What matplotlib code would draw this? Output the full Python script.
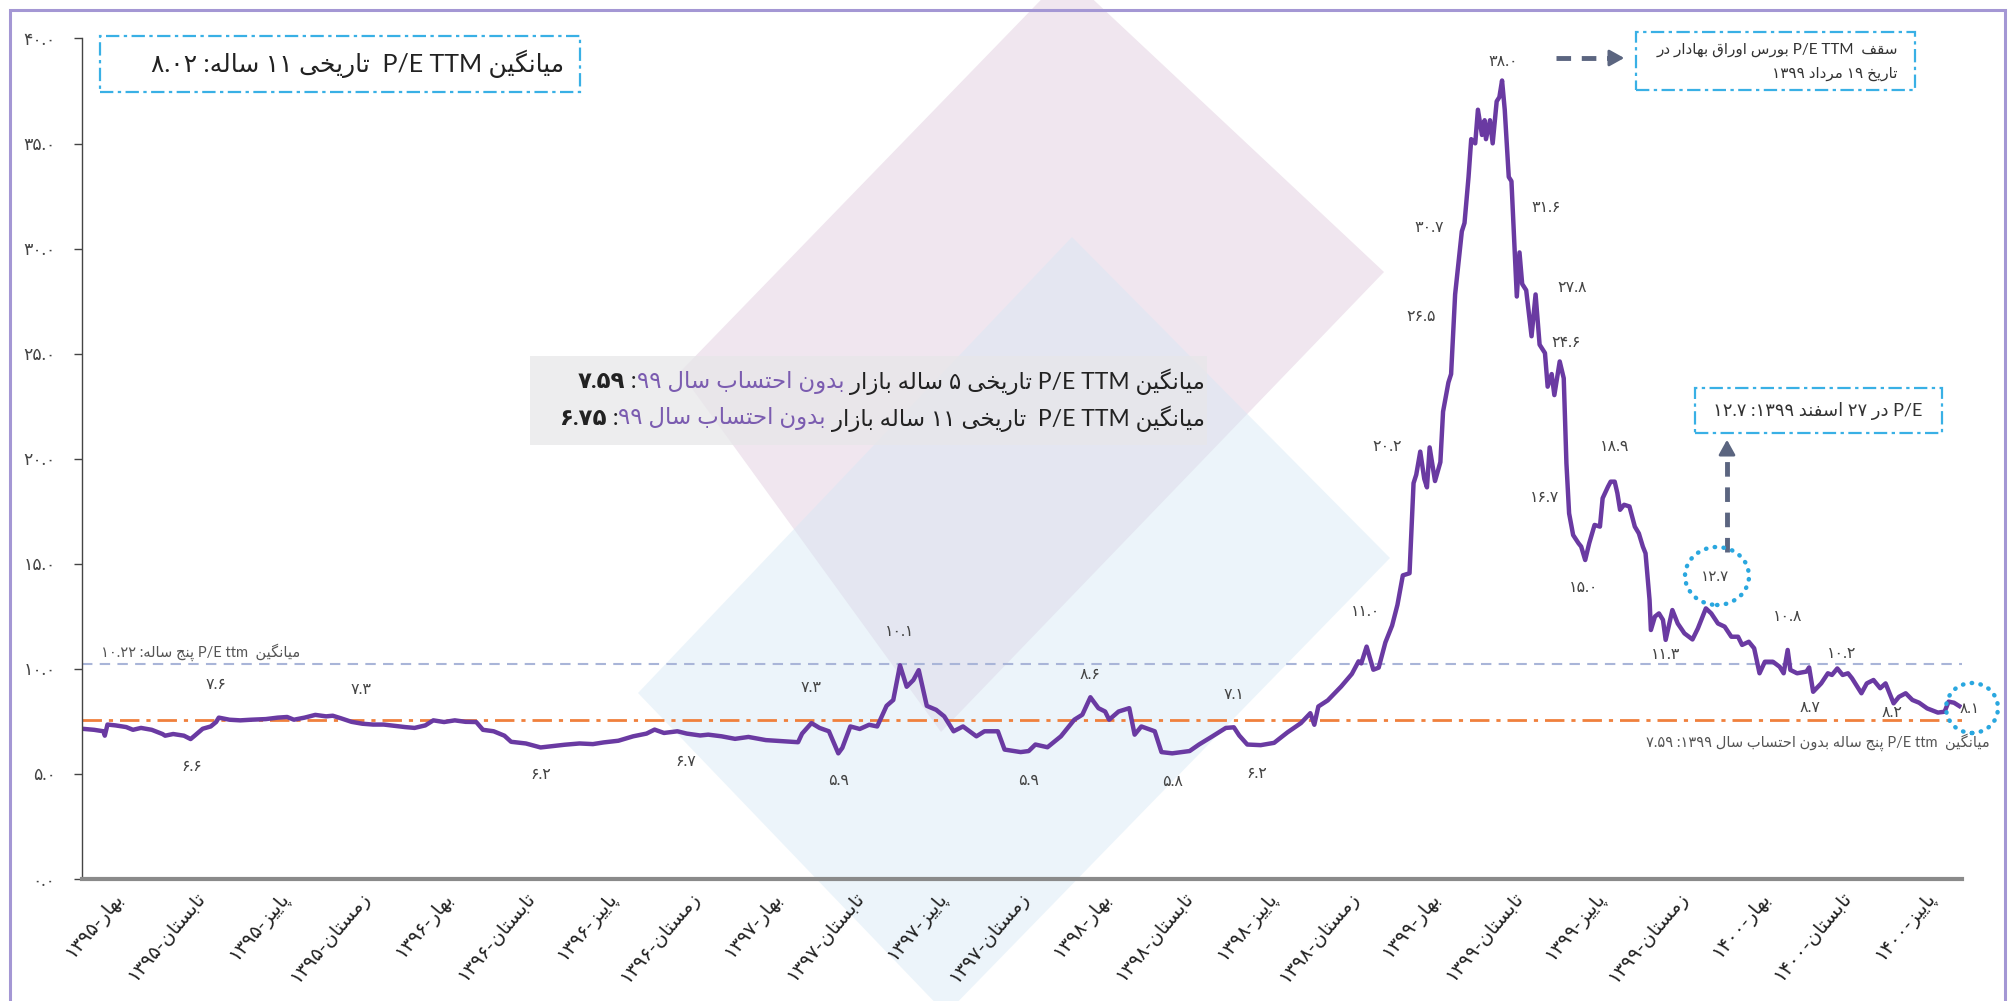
import matplotlib
matplotlib.use("Agg")
import matplotlib.pyplot as plt
from matplotlib.patches import Polygon, Rectangle, Ellipse
from matplotlib.lines import Line2D

plt.rcParams['font.family'] = ['Lato', 'DejaVu Sans']

W, H = 2013, 1001

# trading-day index and P/E TTM of the market
days = [0, 9, 16, 17, 19, 25, 33, 38, 44, 52,
        60, 62, 68, 76, 81, 84, 90, 96, 100, 102,
        110, 118, 126, 137, 146, 153, 158, 166, 174, 182,
        187, 193, 201, 209, 217, 225, 233, 241, 248, 256,
        262, 270, 278, 286, 294, 299, 307, 315, 320, 331,
        342, 350, 360, 371, 381, 389, 400,
        411, 421, 427, 434, 444, 451, 461, 467, 477, 487,
        497, 510, 520, 534, 537, 544, 550, 557, 564, 567,
        573, 580, 587, 593, 600, 605, 610, 615, 620, 624,
        630, 637, 643, 650, 657, 667, 673, 683, 688, 700,
        706, 711, 720, 730, 740, 746, 752, 758, 763, 766,
        773, 781, 785, 790, 800, 805, 813, 826, 833, 843,
        853, 859, 863, 869, 879, 889, 899, 909, 916, 919,
        922,
        929, 939, 947, 952, 954, 958, 963, 967, 972, 977,
        981, 985, 990, 993, 995, 998, 1001, 1003, 1005, 1009,
        1013, 1015, 1019, 1021, 1024, 1029, 1031, 1034, 1036, 1039,
        1041, 1044, 1046, 1047, 1050, 1052, 1055, 1057, 1059, 1061,
        1064, 1066, 1068, 1070, 1072, 1074, 1077, 1081, 1084, 1087,
        1091, 1093, 1096, 1098, 1102, 1105,
        1107, 1109, 1112, 1116, 1118, 1121, 1124, 1128, 1132, 1134,
        1138, 1140, 1143, 1145, 1147, 1150, 1154, 1158, 1161, 1164,
        1166, 1169, 1170, 1173, 1176, 1179, 1181, 1186, 1190, 1195,
        1201, 1205, 1211, 1215, 1220, 1225, 1230, 1235, 1238, 1243,
        1247, 1251, 1255, 1261, 1266, 1269, 1272, 1274, 1279, 1286,
        1288, 1291, 1297, 1302, 1305, 1309, 1313, 1317, 1320, 1327,
        1331, 1336, 1341, 1345, 1351, 1355, 1360, 1365, 1370, 1376,
        1384, 1389, 1392, 1396, 1400]

pe_ttm = [7.15, 7.10, 7.03, 6.82, 7.35, 7.31, 7.23, 7.10, 7.19, 7.10,
          6.90, 6.82, 6.90, 6.82, 6.66, 6.82, 7.15, 7.26, 7.47, 7.68,
          7.58, 7.55, 7.58, 7.61, 7.68, 7.71, 7.58, 7.68, 7.81, 7.74,
          7.77, 7.65, 7.48, 7.39, 7.35, 7.35, 7.29, 7.23, 7.19, 7.31,
          7.55, 7.47, 7.55, 7.48, 7.47, 7.10, 7.03, 6.82, 6.53, 6.45,
          6.26, 6.32, 6.39, 6.45, 6.42, 6.50, 6.58,
          6.79, 6.92, 7.11, 6.95, 7.03, 6.92, 6.83, 6.87, 6.79, 6.67,
          6.76, 6.61, 6.57, 6.51, 6.92, 7.42, 7.19, 7.03, 5.98, 6.24,
          7.26, 7.14, 7.34, 7.26, 8.24, 8.52, 10.17, 9.15, 9.47, 9.94,
          8.24, 8.05, 7.74, 7.03, 7.26, 6.79, 7.03, 7.03, 6.16, 6.04,
          6.09, 6.40, 6.27, 6.79, 7.58, 7.82, 8.65, 8.13, 7.97, 7.58,
          7.97, 8.13, 6.87, 7.26, 7.03, 6.04, 5.98, 6.09, 6.40, 6.79,
          7.19, 7.22, 6.83, 6.40, 6.37, 6.48, 6.98, 7.42, 7.89, 7.34,
          8.21,
          8.50, 9.16, 9.76, 10.36, 10.26, 11.06, 9.96, 10.06, 11.26, 12.06,
          13.05, 14.45, 14.55, 18.84, 19.24, 20.34, 19.04, 18.64, 20.54, 18.94,
          19.84, 22.24, 23.63, 24.03, 27.82, 30.82, 31.22, 33.41, 35.21, 35.01,
          36.61, 35.41, 36.11, 35.21, 36.11, 35.01, 37.01, 37.21, 38.00, 36.61,
          33.41, 33.21, 30.42, 27.72, 29.82, 28.32, 28.02, 25.83, 27.82, 25.43,
          25.03, 23.43, 24.03, 23.03, 24.63, 23.83,
          19.78, 17.40, 16.37, 15.98, 15.82, 15.18, 15.98, 16.85, 16.77, 18.12,
          18.67, 18.91, 18.91, 18.36, 17.57, 17.81, 17.73, 16.77, 16.45, 15.82,
          15.50, 13.28, 11.85, 12.49, 12.64, 12.33, 11.38, 12.80, 12.16, 11.69,
          11.40, 11.92, 12.88, 12.64, 12.16, 12.01, 11.53, 11.53, 11.14, 11.29,
          10.98, 9.79, 10.34, 10.34, 10.10, 9.79, 10.90, 9.95, 9.79, 9.87,
          10.07, 8.91, 9.31, 9.79, 9.71, 10.02, 9.71, 9.79, 9.55, 8.84,
          9.31, 9.47, 9.08, 9.31, 8.36, 8.67, 8.84, 8.52, 8.39, 8.12,
          7.92, 7.96, 8.44, 8.39, 8.23]

avg_5y = 10.22
avg_5y_ex99 = 7.59

season_labels = ['بهار-۱۳۹۵', 'تابستان-۱۳۹۵', 'پاییز-۱۳۹۵', 'زمستان-۱۳۹۵',
                 'بهار-۱۳۹۶', 'تابستان-۱۳۹۶', 'پاییز-۱۳۹۶', 'زمستان-۱۳۹۶',
                 'بهار-۱۳۹۷', 'تابستان-۱۳۹۷', 'پاییز-۱۳۹۷', 'زمستان-۱۳۹۷',
                 'بهار-۱۳۹۸', 'تابستان-۱۳۹۸', 'پاییز-۱۳۹۸', 'زمستان-۱۳۹۸',
                 'بهار-۱۳۹۹', 'تابستان-۱۳۹۹', 'پاییز-۱۳۹۹', 'زمستان-۱۳۹۹',
                 'بهار-۱۴۰۰', 'تابستان-۱۴۰۰', 'پاییز-۱۴۰۰']
season_days = [23, 84, 146, 207, 269, 330, 391, 453, 514, 576, 637, 698,
               760, 821, 883, 944, 1005, 1067, 1128, 1190, 1251, 1312, 1374]

y_ticks = [0, 5, 10, 15, 20, 25, 30, 35, 40]
y_tick_labels = ['۰.۰', '۵.۰', '۱۰.۰', '۱۵.۰', '۲۰.۰', '۲۵.۰', '۳۰.۰', '۳۵.۰', '۴۰.۰']

# values written next to the line (highs above, lows below)
point_notes = ['۷.۶', '۶.۶', '۷.۳', '۶.۲', '۶.۷', '۷.۳', '۵.۹', '۱۰.۱', '۵.۹', '۸.۶',
               '۵.۸', '۷.۱', '۶.۲', '۱۱.۰', '۲۰.۲', '۲۶.۵', '۳۰.۷', '۳۸.۰', '۳۱.۶',
               '۲۷.۸', '۲۴.۶', '۱۶.۷', '۱۸.۹', '۱۵.۰', '۱۱.۳', '۱۰.۸', '۱۰.۲', '۸.۷', '۸.۲']
note_xy = [(100, 9.24), (82, 5.32), (208, 9.0), (342, 4.97), (450, 5.57), (544, 9.07),
           (564, 4.67), (610, 11.75), (706, 4.67), (752, 9.70), (813, 4.62), (859, 8.76),
           (876, 4.99), (957, 12.7), (973, 20.54), (999, 26.73), (1005, 31.0), (1060, 38.9),
           (1092, 31.92), (1111, 28.12), (1107, 25.53), (1091, 18.14), (1143, 20.58),
           (1120, 13.84), (1181, 10.67), (1272, 12.48), (1312, 10.71), (1289, 8.13),
           (1350, 7.89)]

# ---- persian shaping / bidi (matplotlib draws glyphs left to right, unshaped) ----
AR_FORMS = {
    '\u0627': (0xFE8D, 0xFE8E, None, None), '\u0622': (0xFE81, 0xFE82, None, None),
    '\u0628': (0xFE8F, 0xFE90, 0xFE91, 0xFE92), '\u067E': (0xFB56, 0xFB57, 0xFB58, 0xFB59),
    '\u062A': (0xFE95, 0xFE96, 0xFE97, 0xFE98), '\u062B': (0xFE99, 0xFE9A, 0xFE9B, 0xFE9C),
    '\u062C': (0xFE9D, 0xFE9E, 0xFE9F, 0xFEA0), '\u0686': (0xFB7A, 0xFB7B, 0xFB7C, 0xFB7D),
    '\u062D': (0xFEA1, 0xFEA2, 0xFEA3, 0xFEA4), '\u062E': (0xFEA5, 0xFEA6, 0xFEA7, 0xFEA8),
    '\u062F': (0xFEA9, 0xFEAA, None, None), '\u0630': (0xFEAB, 0xFEAC, None, None),
    '\u0631': (0xFEAD, 0xFEAE, None, None), '\u0632': (0xFEAF, 0xFEB0, None, None),
    '\u0698': (0xFB8A, 0xFB8B, None, None), '\u0633': (0xFEB1, 0xFEB2, 0xFEB3, 0xFEB4),
    '\u0634': (0xFEB5, 0xFEB6, 0xFEB7, 0xFEB8), '\u0635': (0xFEB9, 0xFEBA, 0xFEBB, 0xFEBC),
    '\u0636': (0xFEBD, 0xFEBE, 0xFEBF, 0xFEC0), '\u0637': (0xFEC1, 0xFEC2, 0xFEC3, 0xFEC4),
    '\u0638': (0xFEC5, 0xFEC6, 0xFEC7, 0xFEC8), '\u0639': (0xFEC9, 0xFECA, 0xFECB, 0xFECC),
    '\u063A': (0xFECD, 0xFECE, 0xFECF, 0xFED0), '\u0641': (0xFED1, 0xFED2, 0xFED3, 0xFED4),
    '\u0642': (0xFED5, 0xFED6, 0xFED7, 0xFED8), '\u06A9': (0xFB8E, 0xFB8F, 0xFB90, 0xFB91),
    '\u06AF': (0xFB92, 0xFB93, 0xFB94, 0xFB95), '\u0644': (0xFEDD, 0xFEDE, 0xFEDF, 0xFEE0),
    '\u0645': (0xFEE1, 0xFEE2, 0xFEE3, 0xFEE4), '\u0646': (0xFEE5, 0xFEE6, 0xFEE7, 0xFEE8),
    '\u0648': (0xFEED, 0xFEEE, None, None), '\u0647': (0xFEE9, 0xFEEA, 0xFEEB, 0xFEEC),
    '\u06CC': (0xFBFC, 0xFBFD, 0xFBFE, 0xFBFF),
}


def shape(s):
    out = []
    for i, ch in enumerate(s):
        f = AR_FORMS.get(ch)
        if f is None:
            out.append(ch)
            continue
        prev = s[i - 1] if i > 0 else ''
        nxt = s[i + 1] if i + 1 < len(s) else ''
        pj = prev in AR_FORMS and AR_FORMS[prev][2] is not None
        nj = f[2] is not None and nxt in AR_FORMS
        if pj and nj:
            c = f[3]
        elif pj:
            c = f[1]
        elif nj:
            c = f[2]
        else:
            c = f[0]
        out.append(chr(c))
    return ''.join(out)


def kind(ch):
    if ch in AR_FORMS or '\u0600' <= ch <= '\u06EF':
        return 'R'
    if ch.isdigit():
        return 'EN'
    if ch.isalpha():
        return 'L'
    return 'N'


def fa(s):
    s = s.replace('\u064A', '\u06CC').replace('\u0643', '\u06A9')
    n = len(s)
    kinds = [kind(c) for c in s]
    for i in range(1, n - 1):
        if s[i] in '.,/' and kinds[i - 1] == 'EN' and kinds[i + 1] == 'EN':
            kinds[i] = 'EN'
    last = 'R'
    for i, k in enumerate(kinds):
        if k in ('R', 'L'):
            last = k
        elif k == 'EN' and last == 'L':
            kinds[i] = 'L'
    strong = ['R' if k == 'EN' else k for k in kinds]
    i = 0
    while i < n:
        if strong[i] != 'N':
            i += 1
            continue
        j = i
        while j < n and strong[j] == 'N':
            j += 1
        before = strong[i - 1] if i > 0 else 'R'
        after = strong[j] if j < n else 'R'
        d = 'L' if (before == 'L' and after == 'L') else 'R'
        for t in range(i, j):
            kinds[t] = d
        i = j
    levels = [1 if k == 'R' else 2 for k in kinds]
    chars = list(shape(s))
    i = 0
    while i < n:
        if levels[i] == 2:
            j = i
            while j < n and levels[j] == 2:
                j += 1
            chars[i:j] = chars[i:j][::-1]
            i = j
        else:
            i += 1
    return ''.join(chars[::-1])


def fp(x, y):
    # reference pixel (from top-left) -> figure fraction
    return x / W, 1 - y / H


fig = plt.figure(figsize=(W / 100, H / 100), dpi=100)
fig.patch.set_facecolor('white')

# background decoration
fig.add_artist(Polygon([fp(1066, -26), fp(1384, 272), fp(941, 732), fp(680, 372)],
                       closed=True, transform=fig.transFigure, fc='#f0e6ef', ec='none', zorder=0))
fig.add_artist(Polygon([fp(638, 693), fp(1072, 237), fp(1390, 558), fp(946, 1014)],
                       closed=True, transform=fig.transFigure, fc='#d6e8f5', ec='none',
                       alpha=0.45, zorder=0))
fig.add_artist(Rectangle(fp(10, 1010), 1995 / W, 1000 / H, transform=fig.transFigure,
                         fill=False, ec='#a497d4', lw=2.2, zorder=1))

x0, x1 = fp(82, 0)[0], fp(1962, 0)[0]
yb, yt = fp(0, 879)[1], fp(0, 38.5)[1]
ax = fig.add_axes([x0, yb, x1 - x0, yt - yb])
ax.set_facecolor('none')
ax.set_zorder(2)

ax.axhline(avg_5y, color='#a9b5d8', lw=1.5, ls=(0, (5, 3.5)))
ax.axhline(avg_5y_ex99, color='#f0803c', lw=2, ls=(0, (7, 2.5, 1.5, 2.5)))
ax.plot(days, pe_ttm, color='#6a3aa2', lw=3.2, solid_joinstyle='round')

ax.set_xlim(0, 1402)
ax.set_ylim(0, 40)
for s in ['top', 'right']:
    ax.spines[s].set_visible(False)
ax.spines['left'].set_color('#444444')
ax.spines['left'].set_linewidth(1)
ax.spines['bottom'].set_color('#8a8a8a')
ax.spines['bottom'].set_linewidth(3)

ax.set_yticks(y_ticks)
ax.set_yticklabels(y_tick_labels)
ax.tick_params(axis='y', length=6, width=1, color='#444444', pad=13,
               labelsize=12.5, labelcolor='#444444')
ax.set_xticks(season_days)
ax.set_xticklabels([fa(s) for s in season_labels], rotation=50, ha='right',
                   rotation_mode='anchor')
ax.tick_params(axis='x', length=0, pad=7, labelsize=14, labelcolor='#222222')

for txt, (dx, dy) in zip(point_notes, note_xy):
    ax.text(dx, dy, txt, fontsize=11.5, color='#444444', ha='center', va='center')

# small labels of the two average lines
ax.text(*fp(300, 652), fa('میانگین  P/E ttm پنج ساله: ۱۰.۲۲'), transform=fig.transFigure,
        fontsize=10.5, color='#555555', ha='right', va='center')
ax.text(*fp(1990, 742), fa('میانگین  P/E ttm پنج ساله بدون احتساب سال ۱۳۹۹: ۷.۵۹'),
        transform=fig.transFigure, fontsize=10.5, color='#555555', ha='right', va='center')

box_kw = dict(transform=fig.transFigure, fc='white', ec='#39b0e5', lw=1.6,
              ls=(0, (6, 2, 1.5, 2)), zorder=3)

# top-left box
fig.add_artist(Rectangle(fp(100, 92), 480 / W, 56 / H, **box_kw))
fig.text(*fp(358, 64), fa('میانگین P/E TTM  تاریخی ۱۱ ساله: ۸.۰۲'), fontsize=18,
         color='#222222', ha='center', va='center', zorder=4)

# top-right box + arrow
fig.add_artist(Rectangle(fp(1636, 90), 279 / W, 58 / H, **box_kw))
fig.text(*fp(1898, 50), fa('سقف  P/E TTM بورس اوراق بهادار در'), fontsize=11,
         color='#333333', ha='right', va='center', zorder=4)
fig.text(*fp(1898, 74), fa('تاریخ ۱۹ مرداد ۱۳۹۹'), fontsize=11,
         color='#333333', ha='right', va='center', zorder=4)

arrow_c = '#5b6580'
fig.add_artist(Line2D([fp(1556, 58)[0], fp(1612, 58)[0]], [fp(1556, 58)[1]] * 2,
                      transform=fig.transFigure, color=arrow_c, lw=3.5, ls=(0, (3, 2.2))))
fig.add_artist(Line2D([fp(1727, 552)[0]] * 2, [fp(0, 552)[1], fp(0, 452)[1]],
                      transform=fig.transFigure, color=arrow_c, lw=3.5, ls=(0, (3, 2.2))))
ax.annotate('', xy=fp(1627, 58), xytext=fp(1610, 58), xycoords='figure fraction',
            textcoords='figure fraction',
            arrowprops=dict(arrowstyle='-|>,head_length=0.9,head_width=0.5', color=arrow_c, lw=2))
ax.annotate('', xy=fp(1727, 437), xytext=fp(1727, 454), xycoords='figure fraction',
            textcoords='figure fraction',
            arrowprops=dict(arrowstyle='-|>,head_length=0.9,head_width=0.5', color=arrow_c, lw=2))

# right box
fig.add_artist(Rectangle(fp(1695, 433), 247 / W, 45 / H, **box_kw))
fig.text(*fp(1818, 411), fa('P/E در ۲۷ اسفند ۱۳۹۹: ۱۲.۷'), fontsize=13,
         color='#333333', ha='center', va='center', zorder=4)

# dotted circles
for (cx, cy), (w, h), txt in [((1717, 576), (64, 58), '۱۲.۷'), ((1972, 708), (52, 50), '۸.۱')]:
    fig.add_artist(Ellipse(fp(cx, cy), w / W, h / H, transform=fig.transFigure, fill=False,
                           ec='#2aa7df', lw=3.2, ls=(0, (0.1, 1.9)), capstyle='round', zorder=4))
    fig.text(*fp(cx - 2, cy + 1), txt, fontsize=11, color='#444444', ha='center',
             va='center', zorder=4)

# middle summary box with coloured parts
fig.add_artist(Rectangle(fp(530, 445), 677 / W, 89 / H, transform=fig.transFigure,
                         fc='#e7e7e9', ec='none', alpha=0.75, zorder=3))
renderer = fig.canvas.get_renderer()
purple = '#7b5cb0'


def rtl_line(x_right, y, parts, size):
    x = x_right
    for txt, color, weight in parts:
        t = fig.text(*fp(x, y), fa(txt), fontsize=size, color=color, fontweight=weight,
                     ha='right', va='center', zorder=4)
        x -= t.get_window_extent(renderer=renderer).width


rtl_line(1205, 382, [('میانگین P/E TTM تاریخی ۵ ساله بازار ', '#222222', 'normal'),
                     ('بدون احتساب سال ۹۹', purple, 'normal'),
                     (': ', '#222222', 'normal'),
                     ('۷.۵۹', '#222222', 'bold')], 16.5)
rtl_line(1205, 419, [('میانگین P/E TTM  تاریخی ۱۱ ساله بازار ', '#222222', 'normal'),
                     ('بدون احتساب سال ۹۹', purple, 'normal'),
                     (': ', '#222222', 'normal'),
                     ('۶.۷۵', '#222222', 'bold')], 16.5)

fig.savefig('out.png', dpi=100)
